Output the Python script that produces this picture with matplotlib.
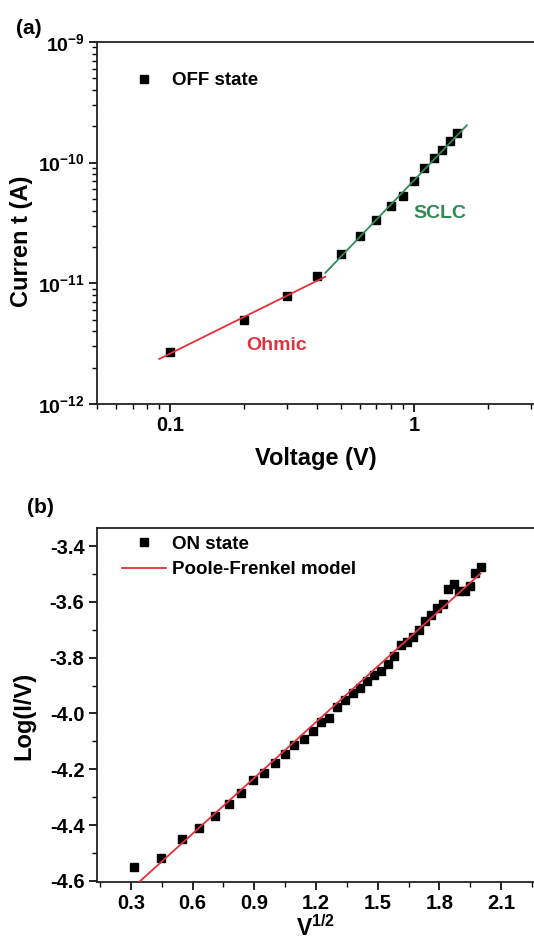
import matplotlib
matplotlib.use("Agg")
import matplotlib.pyplot as plt
from matplotlib.ticker import NullFormatter, LogLocator, MultipleLocator, FormatStrFormatter

plt.rcParams['font.family'] = ['Liberation Sans', 'DejaVu Sans']
plt.rcParams['font.weight'] = 'bold'
plt.rcParams['axes.unicode_minus'] = False
plt.rcParams['mathtext.fontset'] = 'custom'
plt.rcParams['mathtext.rm'] = 'Liberation Sans:bold'
plt.rcParams['mathtext.bf'] = 'Liberation Sans:bold'
plt.rcParams['mathtext.it'] = 'Liberation Sans:bold'

# (a) OFF state I-V, log-log
off_v = [0.1, 0.2, 0.3, 0.4, 0.5, 0.6, 0.7, 0.8, 0.9, 1.0, 1.1, 1.2, 1.3, 1.4, 1.5]
off_i = [2.68e-12, 4.97e-12, 7.9e-12, 1.16e-11, 1.74e-11, 2.48e-11, 3.33e-11,
         4.4e-11, 5.32e-11, 7.04e-11, 9.1e-11, 1.09e-10, 1.28e-10, 1.51e-10, 1.75e-10]
ohmic_v = [0.09, 0.432]
ohmic_i = [2.36e-12, 1.135e-11]
sclc_v = [0.432, 1.644]
sclc_i = [1.22e-11, 2.04e-10]

# (b) ON state, Poole-Frenkel plot
on_x = [0.316, 0.447, 0.548, 0.632, 0.707, 0.775, 0.837, 0.894, 0.949, 1.0,
        1.049, 1.095, 1.140, 1.183, 1.225, 1.265, 1.304, 1.342, 1.378, 1.414,
        1.449, 1.483, 1.517, 1.549, 1.581, 1.612, 1.643, 1.673, 1.703, 1.732,
        1.761, 1.789, 1.817, 1.844, 1.871, 1.897, 1.924, 1.949, 1.975, 2.0]
on_y = [-4.550, -4.518, -4.451, -4.412, -4.368, -4.323, -4.286, -4.237, -4.215, -4.176,
        -4.145, -4.114, -4.092, -4.061, -4.032, -4.016, -3.975, -3.950, -3.928, -3.907,
        -3.884, -3.863, -3.847, -3.822, -3.794, -3.755, -3.743, -3.725, -3.701, -3.669,
        -3.647, -3.623, -3.606, -3.555, -3.536, -3.560, -3.560, -3.543, -3.498, -3.476]
pf_x = [0.316, 2.0]
pf_y = [-4.620, -3.498]

red = '#e0323c'
green = '#2f8a55'

fig = plt.figure(figsize=(5.34, 9.43), dpi=100)
ax1 = fig.add_axes([0.1816, 0.5716, 0.8184, 0.3839])
ax2 = fig.add_axes([0.1816, 0.0650, 0.8184, 0.3751])

for ax in (ax1, ax2):
    ax.spines['right'].set_visible(False)
    for s in ('left', 'top', 'bottom'):
        ax.spines[s].set_linewidth(1.3)
        ax.spines[s].set_color('#222222')
    ax.tick_params(which='major', direction='out', length=6, width=1.2, labelsize=14.5, pad=3)
    ax.tick_params(which='minor', direction='out', length=3.5, width=1.0)
    ax.tick_params(right=False, top=False)

# ---- panel (a)
ax1.set_xscale('log')
ax1.set_yscale('log')
ax1.plot(off_v, off_i, 's', color='black', markersize=6, zorder=2, label='OFF state')
ax1.plot(ohmic_v, ohmic_i, '-', color=red, lw=1.3, zorder=3)
ax1.plot(sclc_v, sclc_i, '-', color=green, lw=1.3, zorder=3)
ax1.set_xlim(0.05, 3.1)
ax1.set_ylim(1e-12, 1e-9)
ax1.set_xticks([0.1, 1], labels=['0.1', '1'])
ax1.xaxis.set_minor_locator(LogLocator(base=10, subs=range(2, 10), numticks=20))
ax1.xaxis.set_minor_formatter(NullFormatter())
ax1.set_yticks([1e-12, 1e-11, 1e-10, 1e-9],
               labels=[r'$\mathbf{10^{-12}}$', r'$\mathbf{10^{-11}}$',
                       r'$\mathbf{10^{-10}}$', r'$\mathbf{10^{-9}}$'])
ax1.tick_params(axis='y', labelsize=14)
ax1.yaxis.set_minor_locator(LogLocator(base=10, subs=range(2, 10), numticks=20))
ax1.yaxis.set_minor_formatter(NullFormatter())
ax1.text(0.272, 3.05e-12, 'Ohmic', color=red, fontsize=14, fontweight='bold',
         ha='center', va='center')
ax1.text(1.28, 3.8e-11, 'SCLC', color=green, fontsize=14, fontweight='bold',
         ha='center', va='center')
ax1.set_xlabel('Voltage (V)', fontsize=17, fontweight='bold')
ax1.set_ylabel('Curren t (A)', fontsize=17, fontweight='bold')
ax1.xaxis.set_label_coords(0.5, -0.119)
ax1.yaxis.set_label_coords(-0.147, 0.45)
ax1.legend(loc='upper left', bbox_to_anchor=(0.057, 0.916), frameon=False,
           handlelength=2.35, handletextpad=0.3, borderpad=0,
           borderaxespad=0, prop={'weight': 'bold', 'size': 13.5})

# ---- panel (b)
ax2.plot(on_x, on_y, 's', color='black', markersize=6.3, zorder=2, label='ON state')
ax2.plot(pf_x, pf_y, '-', color=red, lw=1.3, zorder=3, label='Poole-Frenkel model')
ax2.set_xlim(0.135, 2.26)
ax2.set_ylim(-4.603, -3.335)
ax2.xaxis.set_major_locator(MultipleLocator(0.3))
ax2.xaxis.set_minor_locator(MultipleLocator(0.15))
ax2.yaxis.set_major_locator(MultipleLocator(0.2))
ax2.yaxis.set_minor_locator(MultipleLocator(0.1))
ax2.xaxis.set_major_formatter(FormatStrFormatter('%.1f'))
ax2.yaxis.set_major_formatter(FormatStrFormatter('%.1f'))
ax2.set_xlabel(r'V$^{\mathbf{1/2}}$', fontsize=16.5, fontweight='bold')
ax2.set_ylabel('Log(I/V)', fontsize=17, fontweight='bold')
ax2.xaxis.set_label_coords(0.5, -0.096)
ax2.yaxis.set_label_coords(-0.14, 0.47)
ax2.legend(loc='upper left', bbox_to_anchor=(0.057, 0.978), frameon=False,
           handlelength=2.35, handletextpad=0.3, borderpad=0, borderaxespad=0,
           labelspacing=0.45, prop={'weight': 'bold', 'size': 13.5})

fig.text(0.03, 0.970, '(a)', fontsize=15, fontweight='bold', va='center')
fig.text(0.05, 0.462, '(b)', fontsize=15, fontweight='bold', va='center')

fig.savefig('out.png', dpi=100)
